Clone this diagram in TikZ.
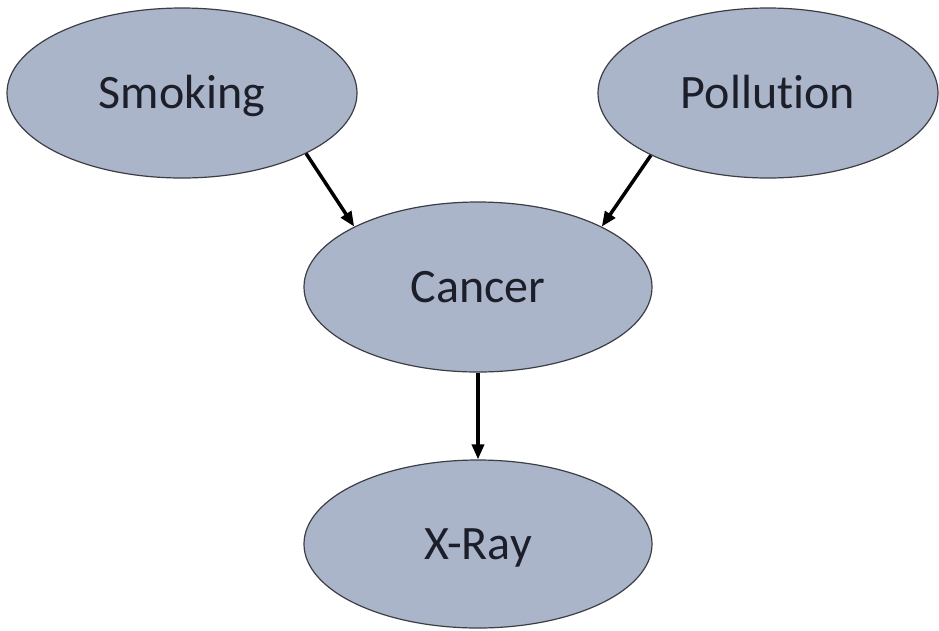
\documentclass[tikz,border=0pt]{standalone}
\usepackage{fontspec}
\setmainfont[Ligatures={NoCommon}]{Carlito}
\usetikzlibrary{shapes.geometric,arrows.meta}
\definecolor{nodefill}{RGB}{170,181,201}
\definecolor{nodeline}{RGB}{60,62,70}
\definecolor{nodetext}{RGB}{28,30,42}
\tikzset{
  varnode/.style={ellipse, draw=nodeline, line width=1.2pt, fill=nodefill, inner sep=0pt,
    text=nodetext, font=\fontsize{48}{56}\selectfont, text depth=0pt, text height=30pt},
  causal/.style={line width=3.5pt, draw=black, -{Triangle[length=15pt,width=12pt]}}
}
\begin{document}
\begin{tikzpicture}[x=1pt,y=-1pt]
\fill[white] (0,0) rectangle (939,630);
\useasboundingbox (0,0) rectangle (939,630);
\node[varnode, minimum width=350pt, minimum height=170pt] (smoking) at (182,93) {Smoking};
\node[varnode, minimum width=340pt, minimum height=170pt] (pollution) at (768,93) {Pollution};
\node[varnode, minimum width=348pt, minimum height=170pt] (cancer) at (478,287) {Cancer};
\node[varnode, minimum width=348pt, minimum height=168pt] (xray) at (478,544) {X-Ray};
\draw[causal] (smoking.-26) -- (cancer.154);
\draw[causal] (pollution.-152) -- (cancer.26);
\draw[causal] (cancer.south) -- (xray.north);
\end{tikzpicture}
\end{document}
